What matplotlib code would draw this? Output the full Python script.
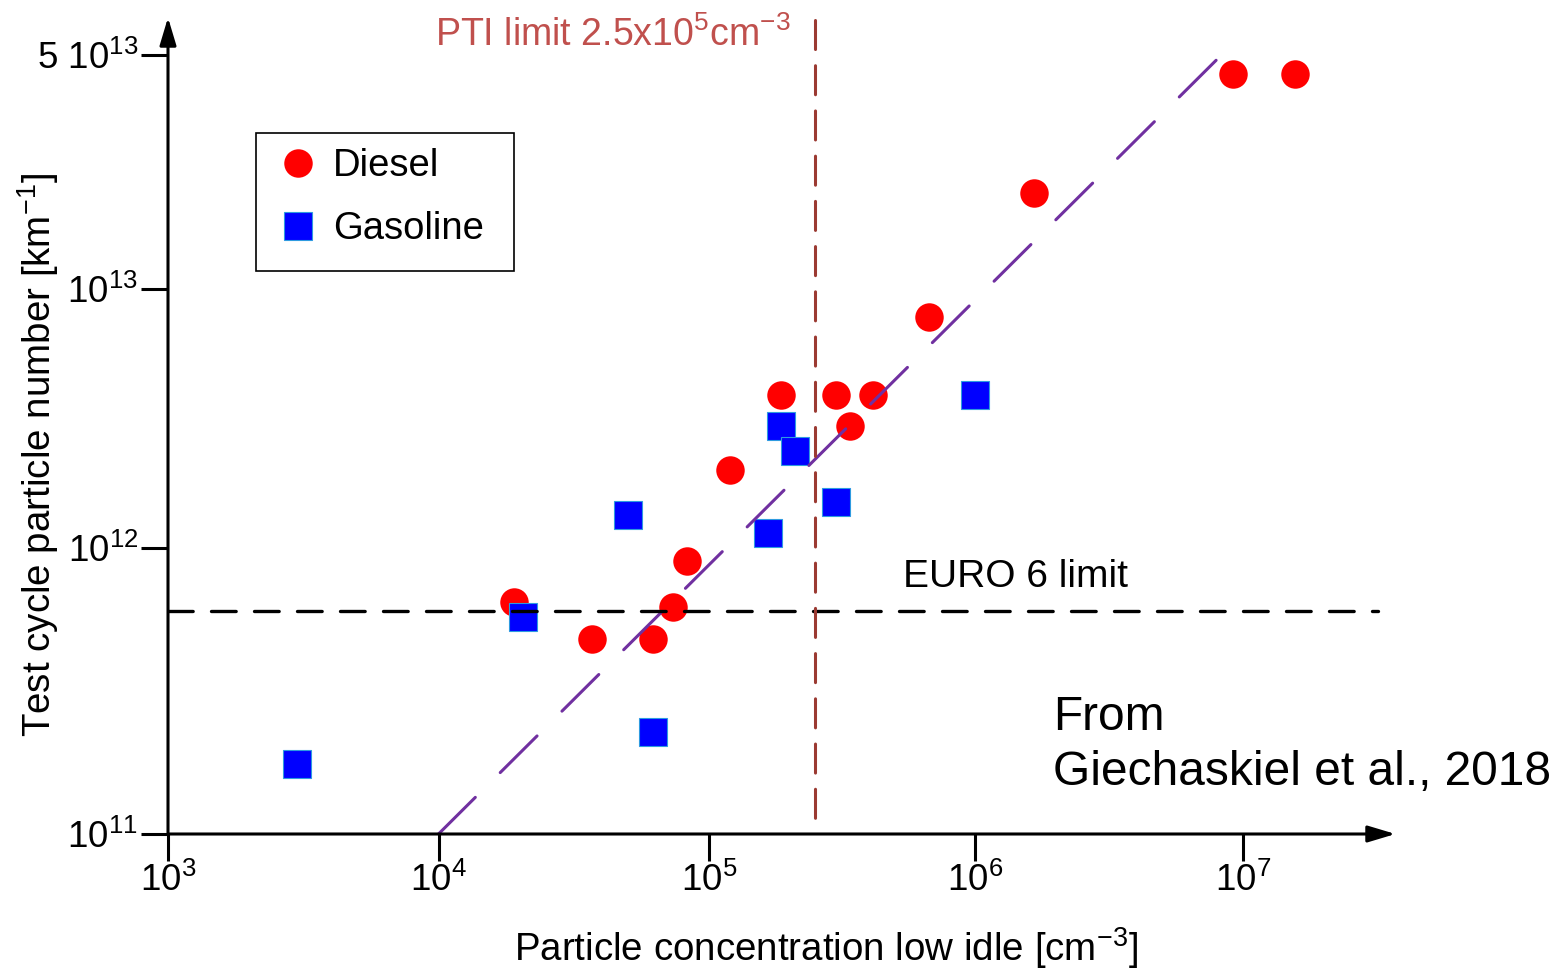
import numpy as np
import matplotlib
matplotlib.use('Agg')
import matplotlib.pyplot as plt
from matplotlib.lines import Line2D
from matplotlib.patches import Rectangle
from matplotlib.ticker import NullLocator

plt.rcParams['font.family'] = ['Liberation Sans', 'DejaVu Sans']
plt.rcParams['mathtext.fontset'] = 'custom'
plt.rcParams['mathtext.rm'] = 'Liberation Sans'
plt.rcParams['mathtext.it'] = 'Liberation Sans'
plt.rcParams['mathtext.default'] = 'regular'

# ---------------- data ----------------
diesel_x = [1.9e4, 3.7e4, 6.2e4, 7.35e4, 8.3e4, 1.2e5, 1.87e5, 3.0e5, 3.4e5, 4.15e5,
            6.7e5, 1.66e6, 9.2e6, 1.56e7]
diesel_y = [6.5e11, 4.8e11, 4.8e11, 6.2e11, 9.0e11, 2.0e12, 3.9e12, 3.9e12, 2.95e12, 3.9e12,
            7.8e12, 1.93e13, 4.4e13, 4.4e13]

gasoline_x = [3.0e3, 2.05e4, 5.0e4, 6.2e4, 1.66e5, 1.87e5, 2.1e5, 3.0e5, 1.0e6]
gasoline_y = [1.76e11, 5.75e11, 1.34e12, 2.28e11, 1.14e12, 2.95e12, 2.37e12, 1.51e12, 3.9e12]

fit_x = [1.0e4, 8.1e6]
fit_y = [1.0e11, 4.9e13]

pti_limit = 2.5e5
euro6_limit = 6.0e11

x_ticks = [1e3, 1e4, 1e5, 1e6, 1e7]
x_ticklabels = [r'$10^{3}$', r'$10^{4}$', r'$10^{5}$', r'$10^{6}$', r'$10^{7}$']
y_ticks = [1e11, 1e12, 1e13, 5e13]
y_ticklabels = [r'$10^{11}$', r'$10^{12}$', r'$10^{13}$', r'5 $10^{13}$']

# ---------------- figure ----------------
W, H = 1564, 969
fig = plt.figure(figsize=(W / 100, H / 100), dpi=100)
L, R, B, T = 168, 1393, 834, 20
ax = fig.add_axes([L / W, 1 - B / H, (R - L) / W, (B - T) / H])


def px(x, y):
    return x / W, 1 - y / H


# The original hand-drawn log axes have unequal decade lengths:
# piecewise-log scales reproduce them.
x_dec = np.array([2, 3, 4, 5, 6, 7, 9], float)
x_pix = np.array([-102.5, 168, 438.5, 709, 975, 1243, 1779], float)
y_dec = np.array([10, 11, 12, 13, np.log10(5e13), 15], float)
y_pix = -np.array([1120, 834, 548, 289, 55, -380], float)


def make_scale(dec, pix):
    def fwd(v):
        v = np.asarray(v, float)
        with np.errstate(divide='ignore', invalid='ignore'):
            lv = np.log10(np.where(v > 0, v, 1e-300))
        return np.interp(lv, dec, pix)

    def inv(p):
        p = np.asarray(p, float)
        return 10 ** np.interp(p, pix, dec)
    return fwd, inv


xf, xi = make_scale(x_dec, x_pix)
yf, yi = make_scale(y_dec, y_pix)
ax.set_xscale('function', functions=(xf, xi))
ax.set_yscale('function', functions=(yf, yi))
ax.set_xlim(float(xi(L)), float(xi(R)))
ax.set_ylim(float(yi(-B)), float(yi(-T)))

# markers
ax.plot(diesel_x, diesel_y, 'o', color='#FF0000', markersize=20.5, markeredgewidth=0,
        zorder=2, clip_on=False)
ax.plot(gasoline_x, gasoline_y, 's', color='#0000FF', markersize=19.5,
        markeredgecolor='#2E9BE0', markeredgewidth=0.8, zorder=2, clip_on=False)

# fit line
ax.plot(fit_x, fit_y, color='#7030A0', lw=2.2, dashes=(17, 11.5),
        dash_capstyle='round', zorder=3)
# EURO 6 limit
ax.plot([0, 0.988], [euro6_limit, euro6_limit], color='black', lw=2.4,
        dashes=(7.4, 5.5), dash_capstyle='round', zorder=3,
        transform=ax.get_yaxis_transform())
# PTI limit (drawn top -> bottom so the dash pattern starts at the top)
ax.plot([pti_limit, pti_limit], [1.0, 0.0], color='#9B3A32', lw=2.2,
        dashes=(9.5, 5.3), dash_capstyle='round', zorder=3,
        transform=ax.get_xaxis_transform(), clip_on=False)

# axes with arrows
for s in ax.spines.values():
    s.set_visible(False)
arrow = dict(arrowstyle='-|>,head_length=0.6,head_width=0.18', color='black', lw=2.2,
             mutation_scale=28, shrinkA=0, shrinkB=0)
ax.annotate('', xy=(1.002, 0), xytext=(0, 0), xycoords='axes fraction', arrowprops=arrow)
ax.annotate('', xy=(0, 1.003), xytext=(0, 0), xycoords='axes fraction', arrowprops=arrow)

ax.set_xticks(x_ticks)
ax.set_xticklabels(x_ticklabels)
ax.set_yticks(y_ticks)
ax.set_yticklabels(y_ticklabels)
ax.xaxis.set_minor_locator(NullLocator())
ax.yaxis.set_minor_locator(NullLocator())
ax.tick_params(direction='out', length=19.5, width=2.2, labelsize=26.5, color='black')
ax.tick_params(axis='x', pad=1)
ax.tick_params(axis='y', pad=2)

ax.set_xlabel('Particle concentration low idle [cm$^{-3}$]', fontsize=27.7, va='center')
ax.xaxis.set_label_coords(0.537, -0.140)
ax.set_ylabel('Test cycle particle number [km$^{-1}$]', fontsize=27.7, va='center')
ax.yaxis.set_label_coords(-0.106, 0.466)

# legend (frame drawn separately to match the original box)
fig.patches.append(Rectangle(px(256, 271), (514 - 256) / W, (271 - 133) / H,
                             transform=fig.transFigure, fill=False,
                             edgecolor='black', linewidth=1.2, zorder=5))
handles = [
    Line2D([], [], ls='none', marker='o', color='#FF0000', markersize=20.5, markeredgewidth=0),
    Line2D([], [], ls='none', marker='s', color='#0000FF', markersize=19.5,
           markeredgecolor='#2E9BE0', markeredgewidth=0.8),
]
leg = ax.legend(handles, ['Diesel', 'Gasoline'], loc='upper left',
                bbox_to_anchor=((256 - L) / (R - L), (B - 125) / (B - T)),
                borderaxespad=0, fontsize=27.5, frameon=False,
                borderpad=0.6, handlelength=1.0,
                handletextpad=0.42, labelspacing=0.72)

# annotations
fig.text(*px(435, 46), 'PTI limit 2.5x10$^{5}$cm$^{-3}$', color='#C0504D', fontsize=27,
         ha='left', va='baseline')
fig.text(*px(903, 587), 'EURO 6 limit', fontsize=28, ha='left', va='baseline')
fig.text(*px(1053, 730), 'From', fontsize=34.5, ha='left', va='baseline')
fig.text(*px(1053, 785), 'Giechaskiel et al., 2018', fontsize=34.5, ha='left', va='baseline')

fig.savefig('out.png', dpi=100)
